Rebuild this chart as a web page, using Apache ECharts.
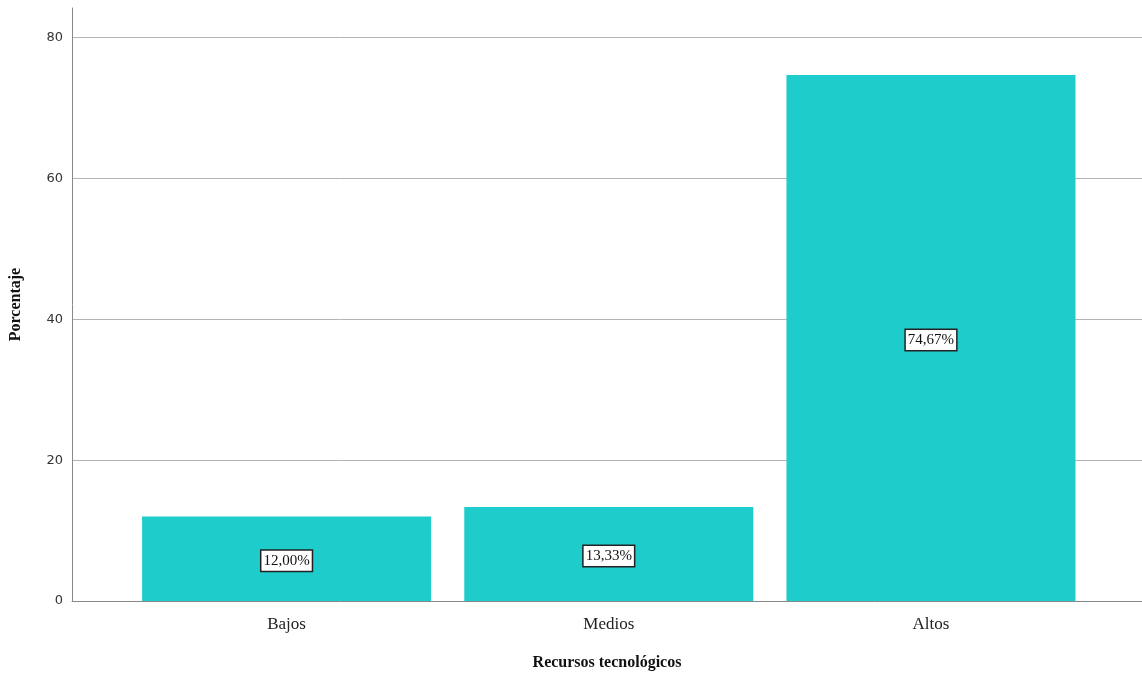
<!DOCTYPE html>
<html><head><meta charset="utf-8">
<script src="https://cdn.jsdelivr.net/npm/echarts@6/dist/echarts.min.js"></script>
<style>html,body{margin:0;padding:0;background:#fff}#c{width:1142px;height:676px}</style>
</head><body><div id="c"></div>
<script>
const categories = ['Bajos', 'Medios', 'Altos'];
const values = [12.00, 13.33, 74.67];
const labels = ['12,00%', '13,33%', '74,67%'];
const yTicks = [0, 20, 40, 60, 80];

const chart = echarts.init(document.getElementById('c'));
const serif = '"Liberation Serif", "DejaVu Serif", serif';
chart.setOption({
  animation: false,
  grid: {left: 72, right: 0, top: 8, bottom: 74, containLabel: false},
  xAxis: {
    type: 'value', min: -0.666, max: 2.655,
    name: 'Recursos tecnológicos', nameLocation: 'middle', nameGap: 54,
    nameTextStyle: {fontFamily: serif, fontSize: 16, fontWeight: 'bold', color: '#111'},
    axisLine: {show: true, onZero: false, lineStyle: {color: '#888', width: 1}},
    axisTick: {show: false},
    splitLine: {show: false},
    axisLabel: {customValues: [0, 1, 2], formatter: v => categories[Math.round(v)] || '',
      fontFamily: serif, fontSize: 17, color: '#222', margin: 15}
  },
  yAxis: {
    type: 'value', min: 0, max: 84.2, interval: 20,
    name: 'Porcentaje', nameLocation: 'middle', nameGap: 48,
    nameTextStyle: {fontFamily: serif, fontSize: 16, fontWeight: 'bold', color: '#111'},
    axisLine: {show: true, onZero: false, lineStyle: {color: '#888', width: 1}},
    axisTick: {show: false},
    axisLabel: {customValues: yTicks, fontFamily: '"DejaVu Sans", sans-serif', fontSize: 13, color: '#333', margin: 9},
    splitLine: {show: true, showMinLine: false, showMaxLine: false, lineStyle: {color: '#b4b4b4', width: 1}}
  },
  series: [{
    type: 'bar', barWidth: 289,
    data: values.map((v, i) => [i, v]),
    itemStyle: {color: '#1fcccc'},
    label: {show: true, position: 'inside', offset: [0, 2], formatter: p => labels[p.dataIndex],
      fontFamily: serif, fontSize: 15, color: '#111', backgroundColor: '#fff',
      borderColor: '#222', borderWidth: 1.5, padding: [3, 2, 2, 2]}
  }]
});
</script></body></html>
